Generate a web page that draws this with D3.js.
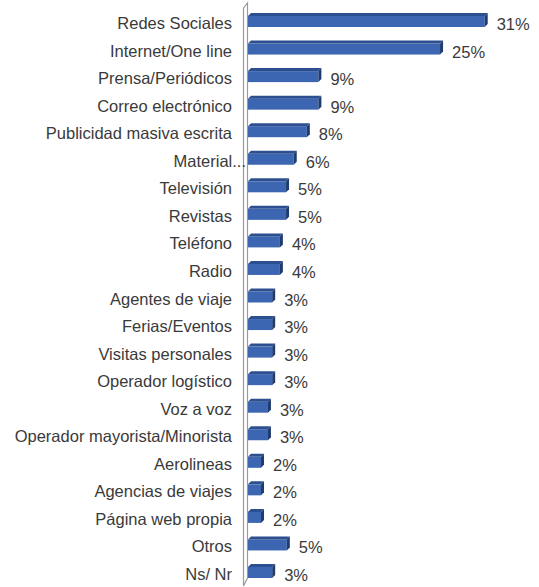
<!DOCTYPE html>
<html><head><meta charset="utf-8">
<script src="https://cdn.jsdelivr.net/npm/d3@7"></script>
<style>body{margin:0;background:#fff}svg{display:block}</style>
</head><body>
<script>
const categories = ["Redes Sociales","Internet/One line","Prensa/Periódicos","Correo electrónico","Publicidad masiva escrita","Material...","Televisión","Revistas","Teléfono","Radio","Agentes de viaje","Ferias/Eventos","Visitas personales","Operador logístico","Voz a voz","Operador mayorista/Minorista","Aerolineas","Agencias de viajes","Página web propia","Otros","Ns/ Nr"];
const values = [31.0,25.2,9.4,9.4,7.9,6.2,5.2,5.2,4.4,4.4,3.4,3.4,3.4,3.4,2.85,2.85,1.95,1.95,1.95,5.3,3.4];

const W = 539, H = 587;
const svg = d3.select("body").append("svg").attr("width", W).attr("height", H);
const font = "'Liberation Sans', Arial, sans-serif";

const y = d3.scalePoint().domain(categories).range([20, 571]);
const x = d3.scaleLinear().domain([0, 32]).range([249, 249 + 32 * 7.7]);

// 3D wall axis
const ax = svg.append("g").attr("stroke", "#9a9a9a").attr("fill", "none").attr("stroke-width", 1.2);
ax.append("path").attr("d", "M243.5,8 L247.5,3 L247.5,578 L243.5,586 Z");

const dx = 3, dy = 3;
const g = svg.append("g");
categories.forEach((c, i) => {
  const cy = y(c);
  const x0 = x(0) - 1, x1 = x(values[i]);
  g.append("rect").attr("x", x0).attr("y", cy - 4).attr("width", x1 - dx - x0).attr("height", 11)
    .attr("fill", "#3c66b2");
  g.append("path").attr("d", `M${x0},${cy-4} L${x0+dx},${cy-4-dy} L${x1},${cy-4-dy} L${x1-dx},${cy-4} Z`)
    .attr("fill", "#2c4f8f");
  g.append("path").attr("d", `M${x1-dx},${cy-4} L${x1},${cy-4-dy} L${x1},${cy+7-dy} L${x1-dx},${cy+7} Z`)
    .attr("fill", "#1f3b70");
  g.append("text").attr("x", x1 + 9).attr("y", cy + 10)
    .attr("font-family", font).attr("font-size", 16.5).attr("fill", "#3a3a3a")
    .text(Math.round(values[i]) + "%");
  g.append("text").attr("x", c === "Material..." ? 246 : 232).attr("y", cy + 9)
    .attr("text-anchor", "end")
    .attr("font-family", font).attr("font-size", 16.5).attr("fill", "#3a3a3a")
    .text(c);
});
</script>
</body></html>
